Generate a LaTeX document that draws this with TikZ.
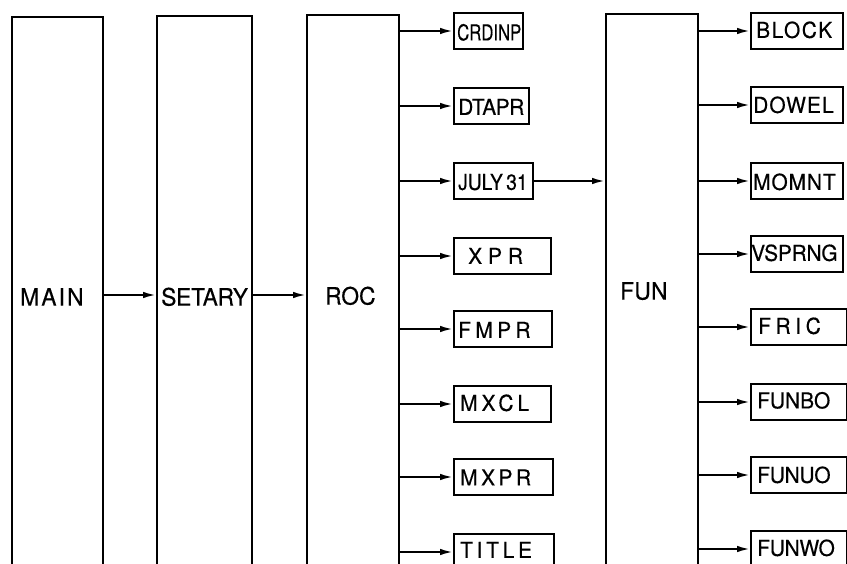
\documentclass[tikz,border=0pt]{standalone}
\usepackage{fontspec}
\usepackage{graphicx}
\usetikzlibrary{arrows.meta}
\newfontfamily\lab[FakeStretch=0.95,FakeBold=0.4]{TeX Gyre Heros}
\newcommand\lsp[2]{{\addfontfeatures{LetterSpace=#1}#2}}
\tikzset{
  box/.style={draw, line width=2pt, inner sep=0pt, anchor=north west, minimum height=36pt},
  tall/.style={draw, line width=2pt, inner sep=0pt, anchor=north west, minimum height=600pt},
  lbl/.style={anchor=base west, inner sep=0pt, font=\lab\fontsize{22}{22}\selectfont},
  biglbl/.style={anchor=base west, inner sep=0pt, font=\lab\fontsize{24}{24}\selectfont},
  arr/.style={line width=2pt, -{Latex[length=13pt,width=6.5pt]}}
}
\begin{document}
\begin{tikzpicture}[x=1pt,y={(0,-1pt)}]
\useasboundingbox (0,0) rectangle (847,564);
\clip (0,0) rectangle (847,564);
% tall boxes
\node[tall, minimum width=91pt] (main) at (11,16) {};
\node[tall, minimum width=95pt] (setary) at (156,15) {};
\node[tall, minimum width=92pt] (roc) at (306,14) {};
\node[tall, minimum width=92pt] (fun) at (605,13) {};
\node[biglbl] (tmain) at (20,305.6) {\lsp{9}{MAIN}};
\node[biglbl] (tsetary) at (161,305.6) {\lsp{-1}{SETARY}};
\node[biglbl] (troc) at (325,304.6) {\lsp{0}{ROC}};
\node[biglbl] (tfun) at (620,299.6) {\lsp{1}{FUN}};
% left column boxes
\node[box, minimum width=69pt] (crdinp) at (453,12) {};
\node[box, minimum width=75pt] (dtapr) at (453,87) {};
\node[box, minimum width=79pt] (july) at (453,162) {};
\node[box, minimum width=97pt] (xpr) at (453,237) {};
\node[box, minimum width=98pt] (fmpr) at (453,310) {};
\node[box, minimum width=97pt] (mxcl) at (453,385) {};
\node[box, minimum width=99pt] (mxpr) at (453,458) {};
\node[box, minimum width=100pt] (title) at (453,533) {};
\node[lbl] (tcrdinp) at (457,40.4) {\scalebox{0.8}[1]{CRDINP}};
\node[lbl] (tdtapr) at (458,114.9) {\lsp{-2}{DTAPR}};
\node[lbl] (tjuly) at (458,189.9) {\scalebox{0.92}[1]{JULY\,31}};
\node[lbl] (txpr) at (468,263.9) {\lsp{27}{XPR}};
\node[lbl] (tfmpr) at (458,337.9) {\lsp{20}{FMPR}};
\node[lbl] (tmxcl) at (460,410.9) {\lsp{18}{MXCL}};
\node[lbl] (tmxpr) at (460,485.4) {\lsp{16}{MXPR}};
\node[lbl] (ttitle) at (460,557.9) {\lsp{17}{TITLE}};
% right column boxes
\node[box, minimum width=92pt] (block) at (750,12) {};
\node[box, minimum width=92pt] (dowel) at (750,86) {};
\node[box, minimum width=92pt] (momnt) at (750,162) {};
\node[box, minimum width=92pt] (vsprng) at (750,235) {};
\node[box, minimum width=96pt] (fric) at (750,308) {};
\node[box, minimum width=96pt] (funbo) at (750,383) {};
\node[box, minimum width=96pt] (funuo) at (750,456) {};
\node[box, minimum width=96pt] (funwo) at (750,530) {};
\node[lbl] (tblock) at (756,37.9) {\lsp{7}{BLOCK}};
\node[lbl] (tdowel) at (753,112.9) {\lsp{5}{DOWEL}};
\node[lbl] (tmomnt) at (753,189.9) {\lsp{4}{MOMNT}};
\node[lbl] (tvsprng) at (751,260.9) {\lsp{-1}{VSPRNG}};
\node[lbl] (tfric) at (758,333.9) {\lsp{21}{FRIC}};
\node[lbl] (tfunbo) at (757,408.4) {\lsp{0}{FUNBO}};
\node[lbl] (tfunuo) at (757,482.9) {\lsp{-1}{FUNUO}};
\node[lbl] (tfunwo) at (757,555.9) {\lsp{-1}{FUNWO}};
% connectors
\coordinate (row) at (0,295);
\draw[arr] (main.east |- row) -- (setary.west |- row);
\draw[arr] (setary.east |- row) -- (roc.west |- row);
\foreach \b in {crdinp,dtapr,july,xpr,fmpr,mxcl,mxpr,title}
  \draw[arr] (roc.east |- \b.west) -- (\b.west);
\draw[arr] (july.east) -- (fun.west |- july.east);
\foreach \b in {block,dowel,momnt,vsprng,fric,funbo,funuo,funwo}
  \draw[arr] (fun.east |- \b.west) -- (\b.west);
\end{tikzpicture}
\end{document}
